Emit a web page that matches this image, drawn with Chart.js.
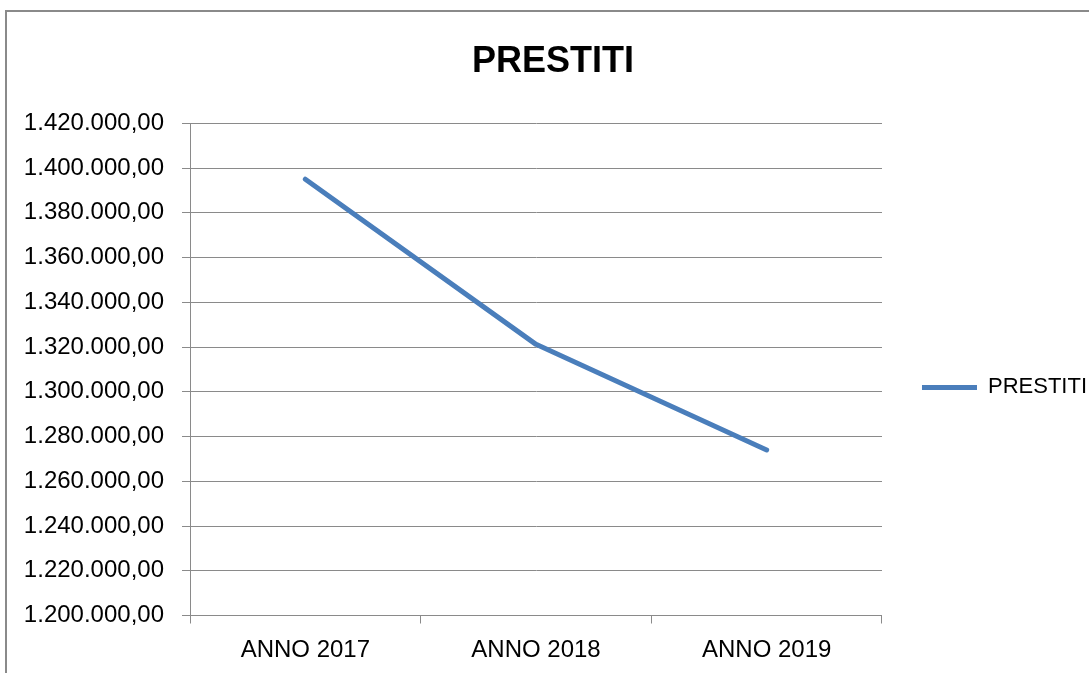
<!DOCTYPE html>
<html>
<head>
<meta charset="utf-8">
<script src="https://cdn.jsdelivr.net/npm/chart.js@4"></script>
<style>
  html, body { margin: 0; padding: 0; background: #fff; overflow: hidden; }
  #frame { position: absolute; left: 5px; top: 10px; width: 1200px; height: 800px;
           border-left: 2px solid #8a8a8a; border-top: 2px solid #8a8a8a; }
  #c { position: absolute; left: 0; top: 0; }
</style>
</head>
<body>
<div id="frame"></div>
<canvas id="c" width="1089" height="673"></canvas>
<script>
const categories = ['ANNO 2017', 'ANNO 2018', 'ANNO 2019'];
const seriesName = 'PRESTITI';
const prestiti = [1395000, 1321200, 1274000];
const yTickValues = [1200000, 1220000, 1240000, 1260000, 1280000, 1300000,
                     1320000, 1340000, 1360000, 1380000, 1400000, 1420000];
const chartTitle = 'PRESTITI';

function formatIt(v) {
  const s = Math.round(v).toString();
  let out = '';
  for (let i = 0; i < s.length; i++) {
    if (i > 0 && (s.length - i) % 3 === 0) out += '.';
    out += s[i];
  }
  return out + ',00';
}

const FONT = "'Liberation Sans', Arial, sans-serif";
const GRID = '#8a8a8a';

new Chart(document.getElementById('c'), {
  type: 'line',
  data: {
    labels: categories,
    datasets: [{
      label: seriesName,
      data: prestiti,
      borderColor: '#4a7ebb',
      backgroundColor: '#4a7ebb',
      borderWidth: 5,
      borderCapStyle: 'round',
      borderJoinStyle: 'round',
      pointRadius: 0,
      pointHoverRadius: 0,
      tension: 0,
      fill: false
    }]
  },
  options: {
    responsive: false,
    devicePixelRatio: 1,
    animation: false,
    layout: { padding: { left: 9, right: -8, top: 0, bottom: 0 } },
    plugins: {
      tooltip: { enabled: false },
      title: {
        display: true,
        text: chartTitle,
        color: '#000',
        font: { family: FONT, size: 36, weight: 'bold', lineHeight: 1.2 },
        padding: { top: 40.4, bottom: 39.7 }
      },
      legend: {
        position: 'right',
        fullSize: false,
        align: 'center',
        title: { display: true, text: '', padding: 0, font: { family: FONT, size: 30, lineHeight: 1.2 } },
        labels: {
          usePointStyle: true,
          pointStyle: 'line',
          pointStyleWidth: 55,
          padding: 40,
          color: '#000',
          font: { family: FONT, size: 22 }
        }
      }
    },
    scales: {
      x: {
        type: 'category',
        offset: true,
        grid: {
          offset: true,
          drawOnChartArea: false,
          drawTicks: true,
          tickLength: 8,
          color: GRID,
          lineWidth: 1
        },
        border: { display: true, color: GRID, width: 1 },
        ticks: {
          color: '#000',
          padding: 12,
          maxRotation: 0,
          font: { family: FONT, size: 24 }
        },
        afterFit: (s) => { s.height = 57.5; }
      },
      y: {
        min: 1200000,
        max: 1420000,
        grid: {
          drawOnChartArea: true,
          drawTicks: true,
          tickLength: 8,
          color: GRID,
          lineWidth: 1
        },
        border: { display: true, color: GRID, width: 1 },
        ticks: {
          color: '#000',
          padding: 18,
          font: { family: FONT, size: 24 },
          callback: (v) => formatIt(v)
        },
        afterBuildTicks: (s) => { s.ticks = yTickValues.map(v => ({ value: v })); },
        afterFit: (s) => { s.width = 181; }
      }
    }
  }
});
</script>
</body>
</html>
